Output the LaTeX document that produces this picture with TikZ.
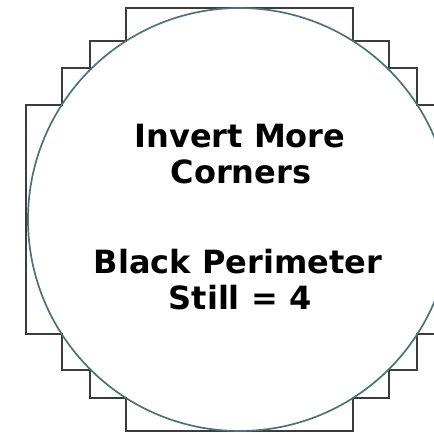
\documentclass[tikz,border=0pt]{standalone}
\usepackage{fontspec}
\newfontfamily\notefont{DejaVu Sans}
\definecolor{rimgray}{RGB}{60,60,60}
\definecolor{circteal}{RGB}{75,115,120}
\tikzset{
  notetext/.style={font=\notefont\bfseries\fontsize{32}{36}\selectfont, anchor=base, inner sep=0pt, text=black},
  stairline/.style={rimgray, line width=2pt},
  roundline/.style={circteal, line width=1.7pt}
}

\begin{document}
\begin{tikzpicture}[x=1pt,y=-1pt]
\useasboundingbox (0,0) rectangle (434,433);
\clip (0,0) rectangle (434,433);

% staircase outline
\draw[stairline] (126,8) -- (353,8) -- (353,41.5) -- (389,41.5) -- (389,68.5) -- (417,68.5) -- (417,105) -- (453,105)
  -- (453,334) -- (417,334) -- (417,370) -- (389,370) -- (389,397.5) -- (353,397.5) -- (353,431)
  -- (126,431) -- (126,397.5) -- (90,397.5) -- (90,370) -- (62,370) -- (62,334) -- (26,334)
  -- (26,105) -- (62,105) -- (62,68.5) -- (90,68.5) -- (90,41.5) -- (126,41.5) -- cycle;

% circle
\draw[roundline] (239.5,219.5) circle (211.5pt);

\node[notetext] (invert) at (240,148) {Invert More};
\node[notetext] (corners) at (241,183) {Corners};
\node[notetext] (black) at (238,273) {Black Perimeter};
\node[notetext] (still) at (240,309) {Still = 4};
\end{tikzpicture}
\end{document}
